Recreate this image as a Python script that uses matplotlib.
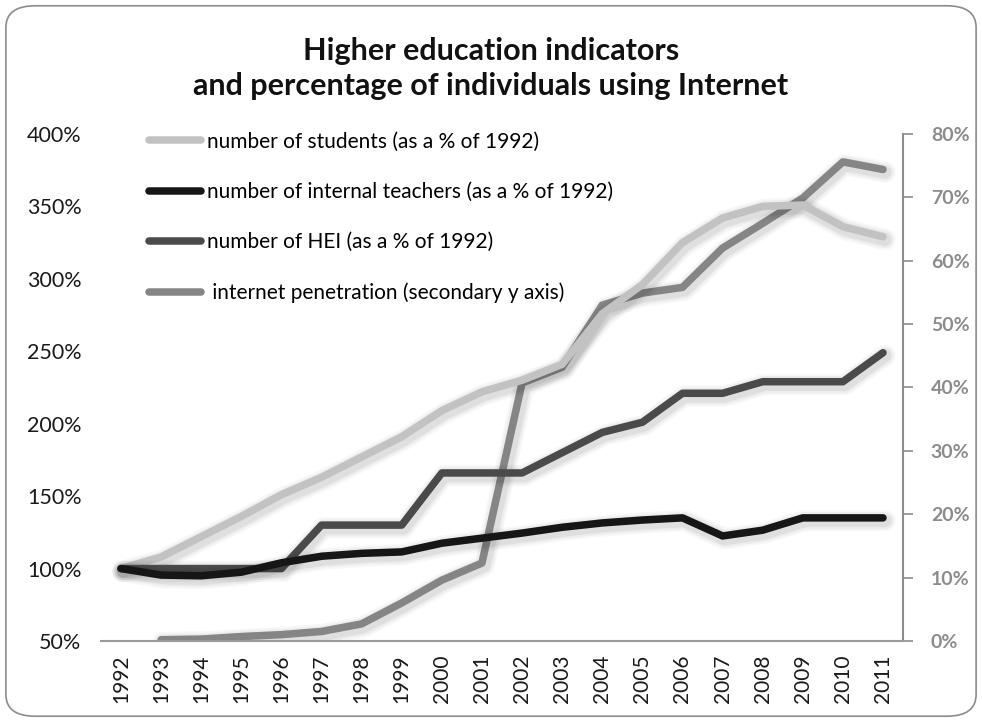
import matplotlib.pyplot as plt
import matplotlib.patheffects as pe
from matplotlib.patches import FancyBboxPatch
from matplotlib.ticker import FuncFormatter, MultipleLocator
import numpy as np

plt.rcParams['font.family'] = ['Lato', 'DejaVu Sans']

years = list(range(1992, 2012))
students = [100, 108, 122, 136, 151, 163, 177, 191, 209, 222, 230, 241, 276, 296, 325, 342, 350, 351, 336, 329]
teachers = [100, 95.5, 95, 97.5, 104, 108.5, 110.5, 111.5, 117.5, 121, 124.5, 128.5, 131.5, 133.5, 135, 122.5, 126.5, 135, 135, 135]
hei = [100, 100, 100, 100, 100, 130, 130, 130, 166, 166, 166, 180, 194, 201, 221, 221, 229, 229, 229, 249]
internet = [None, 0.2, 0.3, 0.7, 1.0, 1.5, 2.7, 6.0, 9.6, 12.3, 40.7, 43.2, 53.0, 54.9, 55.8, 62.0, 65.9, 69.9, 75.6, 74.4]

labels = ["number of students (as a % of 1992)",
          "number of internal teachers (as a % of 1992)",
          "number of HEI (as a % of 1992)",
          " internet penetration (secondary y axis)"]
colors = ["#c2c2c2", "#161616", "#4a4a4a", "#858585"]

fig = plt.figure(figsize=(9.82, 7.22), dpi=100)
fig.patches.append(FancyBboxPatch((0.006, 0.008), 0.988, 0.984,
                                  boxstyle="round,pad=0,rounding_size=0.03",
                                  transform=fig.transFigure, fill=False,
                                  edgecolor="#8c8c8c", linewidth=1.2))

ax = fig.add_axes([0.1028, 0.1122, 0.8168, 0.7022])
ax2 = ax.twinx()

x = np.arange(len(years))
lw = 5.4


def shadow(lw):
    effs = []
    for k, a in [(10, 0.03), (7, 0.04), (4, 0.06)]:
        effs.append(pe.SimpleLineShadow(offset=(1.5, -2), shadow_color="black",
                                        alpha=a, rho=1, linewidth=lw + k))
    effs.append(pe.Normal())
    return effs


inet = np.array([np.nan if v is None else v for v in internet], dtype=float)

h1, = ax.plot(x, students, color=colors[0], lw=lw, solid_capstyle="round",
              solid_joinstyle="round", path_effects=shadow(lw), zorder=2)
h4, = ax2.plot(x, inet, color=colors[3], lw=lw, solid_capstyle="round",
               solid_joinstyle="round", path_effects=shadow(lw), zorder=2)
h3, = ax.plot(x, hei, color=colors[2], lw=lw, solid_capstyle="round",
              solid_joinstyle="round", path_effects=shadow(lw), zorder=3)
h2, = ax.plot(x, teachers, color=colors[1], lw=lw, solid_capstyle="round",
              solid_joinstyle="round", path_effects=shadow(lw), zorder=4)

ax.set_zorder(ax2.get_zorder() + 1)
ax.patch.set_visible(False)

ax.set_xlim(-0.5, len(years) - 0.5)
ax.set_ylim(50, 400)
ax2.set_ylim(0, 80)
ax.yaxis.set_major_locator(MultipleLocator(50))
ax2.yaxis.set_major_locator(MultipleLocator(10))
ax.yaxis.set_major_formatter(FuncFormatter(lambda v, p: f"{v:.0f}%"))
ax2.yaxis.set_major_formatter(FuncFormatter(lambda v, p: f"{v:.0f}%"))

ax.set_xticks(x)
ax.set_xticklabels([str(y) for y in years], rotation=90, fontsize=15, color="#1a1a1a")
ax.tick_params(axis="x", length=0, pad=10)
ax.tick_params(axis="y", length=0, pad=14, labelsize=15.5, labelcolor="#1a1a1a")
ax2.tick_params(axis="y", length=7, width=1.2, color="#8c8c8c", pad=13,
                labelsize=14, labelcolor="#8c8c8c")
for t in ax2.get_yticklabels():
    t.set_fontweight("bold")

for a in (ax, ax2):
    for s in ("top", "left"):
        a.spines[s].set_visible(False)
ax.spines["right"].set_visible(False)
ax2.spines["bottom"].set_visible(False)
ax.spines["bottom"].set_color("#9a9a9a")
ax.spines["bottom"].set_linewidth(1.5)
ax2.spines["right"].set_color("#8c8c8c")
ax2.spines["right"].set_linewidth(1.5)

leg = ax.legend([h1, h2, h3, h4], labels, loc="upper left",
                bbox_to_anchor=(0.06, 1.005), frameon=False, fontsize=15,
                handlelength=2.5, handletextpad=0.3, labelspacing=1.46,
                borderaxespad=0, borderpad=0)
for line in leg.get_lines():
    line.set_path_effects([])

fig.text(0.5, 0.905, "Higher education indicators\nand percentage of individuals using Internet",
         ha="center", va="center", fontsize=22, fontweight="bold",
         linespacing=1.3, color="#111111")

fig.savefig("out.png", dpi=100)
